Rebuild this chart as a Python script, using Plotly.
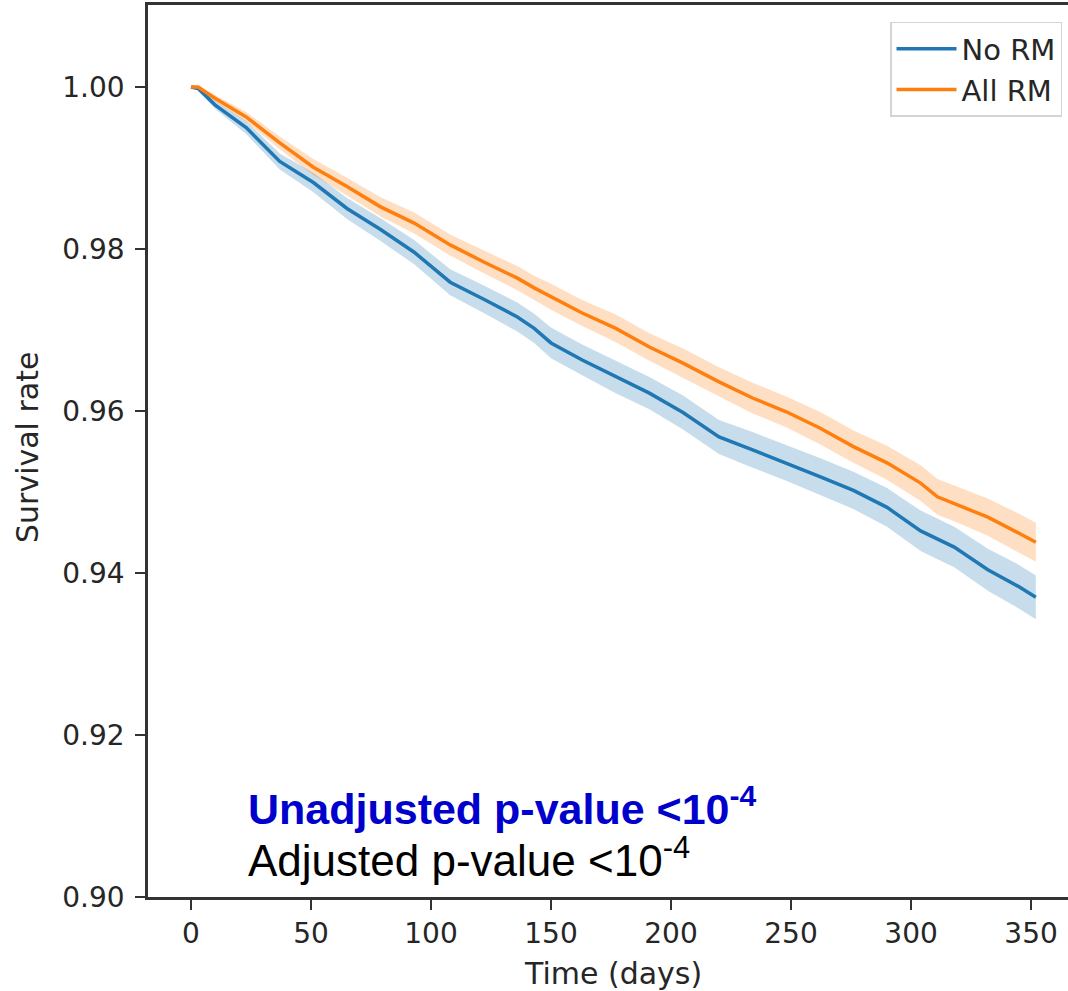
import plotly.graph_objects as go

# ---- data ----
days = [0, 3, 10, 23, 37, 51, 65, 79, 93, 108, 122, 136, 143, 150, 163, 177,
        191, 205, 220, 234, 248, 262, 276, 290, 304, 311, 318, 332, 345, 352]

no_rm = [1.0000, 0.9998, 0.9978, 0.9950, 0.9908, 0.9882, 0.9850, 0.9824, 0.9796,
         0.9759, 0.9738, 0.9716, 0.9702, 0.9684, 0.9663, 0.9642, 0.9622, 0.9598,
         0.9568, 0.9552, 0.9536, 0.9519, 0.9502, 0.9481, 0.9452, 0.9442, 0.9432,
         0.9404, 0.9383, 0.9370]

all_rm = [1.0000, 1.0000, 0.9986, 0.9963, 0.9931, 0.9901, 0.9877, 0.9852, 0.9832,
          0.9805, 0.9784, 0.9764, 0.9752, 0.9741, 0.9721, 0.9702, 0.9679, 0.9659,
          0.9636, 0.9616, 0.9599, 0.9579, 0.9556, 0.9536, 0.9511, 0.9494, 0.9486,
          0.9469, 0.9449, 0.9438]

# half-width of the confidence band at each day
no_rm_ci = [0.0, 0.0002, 0.0005, 0.0008, 0.0010, 0.0012, 0.0013, 0.0014, 0.0015,
            0.0016, 0.0017, 0.0018, 0.0018, 0.0019, 0.0019, 0.0020, 0.0020, 0.0021,
            0.0021, 0.0022, 0.0022, 0.0023, 0.0023, 0.0024, 0.0025, 0.0025, 0.0025,
            0.0026, 0.0027, 0.0027]
all_rm_ci = [0.0, 0.0001, 0.0004, 0.0006, 0.0008, 0.0010, 0.0011, 0.0012, 0.0013,
             0.0013, 0.0014, 0.0015, 0.0015, 0.0016, 0.0016, 0.0017, 0.0017, 0.0018,
             0.0018, 0.0019, 0.0019, 0.0020, 0.0020, 0.0021, 0.0022, 0.0022, 0.0022,
             0.0023, 0.0024, 0.0024]

series = [
    ("No RM", no_rm, no_rm_ci, "#1f77b4", "rgba(31,119,180,0.25)"),
    ("All RM", all_rm, all_rm_ci, "#ff7f0e", "rgba(255,127,14,0.25)"),
]

x_ticks = [0, 50, 100, 150, 200, 250, 300, 350]
y_ticks = [0.90, 0.92, 0.94, 0.96, 0.98, 1.00]

fig = go.Figure()
for name, vals, ci, color, fill in series:
    upper = [v + c for v, c in zip(vals, ci)]
    lower = [v - c for v, c in zip(vals, ci)]
    fig.add_trace(go.Scatter(x=days, y=upper, mode="lines", line=dict(width=0, color=fill),
                             showlegend=False, hoverinfo="skip"))
    fig.add_trace(go.Scatter(x=days, y=lower, mode="lines", line=dict(width=0, color=fill),
                             fill="tonexty", fillcolor=fill, showlegend=False, hoverinfo="skip"))
for name, vals, ci, color, fill in series:
    fig.add_trace(go.Scatter(x=days, y=vals, mode="lines", name=name, legendgroup=name,
                             line=dict(color=color, width=3.5)))

tick_font = dict(family="DejaVu Sans", size=28, color="#262626")
title_font = dict(family="DejaVu Sans", size=30, color="#262626")

fig.update_layout(
    width=1068, height=991,
    margin=dict(l=148, r=0, t=5, b=94),
    plot_bgcolor="white", paper_bgcolor="white",
    showlegend=True,
    legend=dict(x=0.9935, y=0.981, xanchor="right", yanchor="top", traceorder="normal",
                bgcolor="rgba(255,255,255,0.8)", bordercolor="#d4d4d4", borderwidth=1.5,
                font=dict(family="DejaVu Sans", size=29, color="#262626"),
                itemwidth=60, tracegroupgap=6),
    xaxis=dict(range=[-17.9, 365.4], tickvals=x_ticks, ticks="outside", ticklen=10,
               tickwidth=2, tickcolor="#333", showline=True, linecolor="#333", linewidth=2.5,
               mirror=True, showgrid=False, zeroline=False, tickfont=tick_font),
    yaxis=dict(range=[0.9, 1.01012], tickvals=y_ticks, tickformat=".2f", ticks="outside",
               ticklen=10, tickwidth=2, tickcolor="#333", showline=True, linecolor="#333",
               linewidth=2.5, mirror=False, showgrid=False, zeroline=False, tickfont=tick_font,
               ticklabelstandoff=5),
)

fig.add_annotation(text="Time (days)", xref="paper", yref="paper", x=(613 - 148) / 920,
                   y=-(973 - 897) / 892, xanchor="center", yanchor="middle", showarrow=False,
                   font=title_font)
fig.add_annotation(text="Survival rate", xref="paper", yref="paper", x=-(148 - 27) / 920,
                   y=(897 - 448) / 892, xanchor="center", yanchor="middle", textangle=-90,
                   showarrow=False, font=title_font)

fig.add_annotation(text="<b>Unadjusted p-value <10<sup>-4</sup></b>", xref="paper", yref="paper",
                   x=(246 - 148) / 920, y=(897 - 806) / 892, xanchor="left", yanchor="middle",
                   showarrow=False, font=dict(family="Liberation Sans", size=43, color="#0000cc"))
fig.add_annotation(text="Adjusted p-value <10<sup>-4</sup>", xref="paper", yref="paper",
                   x=(246 - 148) / 920, y=(897 - 857) / 892, xanchor="left", yanchor="middle",
                   showarrow=False, font=dict(family="Liberation Sans", size=44, color="#000000"))

fig.write_html("out.html", config={"displayModeBar": False},
               post_script="document.body.style.margin='0px';document.body.style.overflow='hidden';")
